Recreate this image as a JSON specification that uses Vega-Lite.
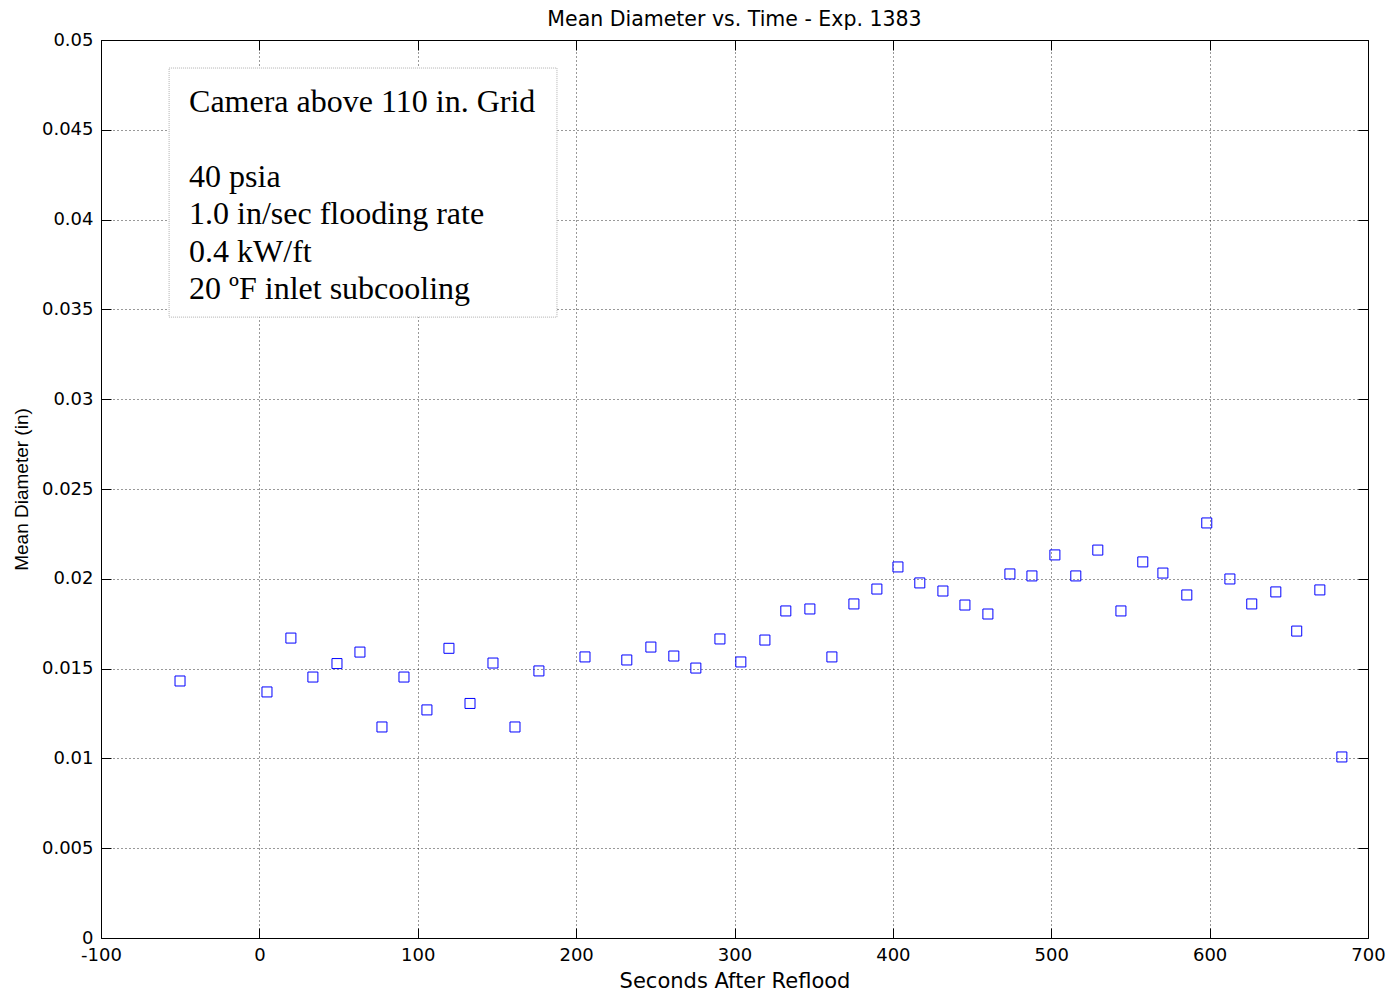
{
  "$schema": "https://vega.github.io/schema/vega-lite/v6.json",
  "width": 1267,
  "height": 898,
  "autosize": {"type": "none"},
  "padding": {"left": 101, "top": 40, "right": 25, "bottom": 57},
  "background": "white",
  "title": {"text": "Mean Diameter vs. Time - Exp. 1383", "font": "DejaVu Sans", "fontSize": 20.5, "fontWeight": "normal", "color": "black", "offset": 1},
  "config": {
    "view": {"stroke": "black", "strokeWidth": 1},
    "axis": {"labelFont": "DejaVu Sans", "labelFontSize": 18, "labelColor": "black", "labelFlush": false, "titleFont": "DejaVu Sans", "titleFontSize": 21, "titleFontWeight": "normal", "titleColor": "black", "domain": false, "tickColor": "black", "tickSize": -10, "tickWidth": 1, "gridColor": "black", "gridDash": [1, 3], "gridOpacity": 0.8, "gridWidth": 1}
  },
  "datasets": {
    "points": [
      {"t": -50.1, "d": 0.01431}, {"t": 4.8, "d": 0.0137}, {"t": 19.9, "d": 0.0167}, {"t": 33.8, "d": 0.01453},
      {"t": 49.0, "d": 0.01528}, {"t": 63.5, "d": 0.01592}, {"t": 77.4, "d": 0.01175}, {"t": 91.3, "d": 0.01453},
      {"t": 105.8, "d": 0.0127}, {"t": 119.7, "d": 0.01613}, {"t": 133.0, "d": 0.01306}, {"t": 147.5, "d": 0.01531},
      {"t": 161.4, "d": 0.01175}, {"t": 176.5, "d": 0.01487}, {"t": 205.6, "d": 0.01565}, {"t": 232.0, "d": 0.01548},
      {"t": 247.2, "d": 0.0162}, {"t": 261.7, "d": 0.0157}, {"t": 275.6, "d": 0.01503}, {"t": 290.8, "d": 0.01665},
      {"t": 304.0, "d": 0.01537}, {"t": 319.2, "d": 0.01659}, {"t": 332.4, "d": 0.01821}, {"t": 347.6, "d": 0.01832},
      {"t": 361.5, "d": 0.01565}, {"t": 375.4, "d": 0.0186}, {"t": 389.9, "d": 0.01943}, {"t": 403.2, "d": 0.02066},
      {"t": 417.0, "d": 0.01977}, {"t": 431.6, "d": 0.01932}, {"t": 445.5, "d": 0.01854}, {"t": 460.0, "d": 0.01804},
      {"t": 473.9, "d": 0.02027}, {"t": 487.8, "d": 0.02016}, {"t": 502.3, "d": 0.02133}, {"t": 515.5, "d": 0.02016},
      {"t": 529.4, "d": 0.0216}, {"t": 544.0, "d": 0.01821}, {"t": 557.8, "d": 0.02094}, {"t": 570.5, "d": 0.02032},
      {"t": 585.6, "d": 0.0191}, {"t": 598.2, "d": 0.02311}, {"t": 612.8, "d": 0.01999}, {"t": 626.6, "d": 0.0186},
      {"t": 641.8, "d": 0.01927}, {"t": 655.0, "d": 0.01709}, {"t": 669.6, "d": 0.01938}, {"t": 683.5, "d": 0.01008}
    ],
    "box": [{"x1": -57.0, "x2": 187.9, "y1": 0.04844, "y2": 0.03457}]
  },
  "layer": [
    {
      "data": {"name": "box"},
      "mark": {"type": "rect", "fill": "white", "stroke": "#b0b0b0", "strokeWidth": 1, "strokeDash": [1, 1]},
      "encoding": {
        "x": {"field": "x1", "type": "quantitative", "scale": {"domain": [-100, 700], "nice": false, "zero": false},
              "axis": {"orient": "top", "labels": false, "title": null, "grid": false, "values": [-100, 0, 100, 200, 300, 400, 500, 600, 700]}},
        "x2": {"field": "x2"},
        "y": {"field": "y1", "type": "quantitative", "scale": {"domain": [0, 0.05], "nice": false, "zero": false},
              "axis": {"orient": "right", "labels": false, "title": null, "grid": false, "values": [0, 0.005, 0.01, 0.015, 0.02, 0.025, 0.03, 0.035, 0.04, 0.045, 0.05]}},
        "y2": {"field": "y2"}
      }
    },
    {
      "data": {"name": "box"},
      "mark": {"type": "text", "text": "Camera above 110 in. Grid", "font": "Liberation Serif", "fontSize": 32, "align": "left", "baseline": "alphabetic", "color": "black"},
      "encoding": {
        "x": {"datum": -44.4, "type": "quantitative", "axis": null},
        "y": {"datum": 0.04599, "type": "quantitative", "axis": null}
      }
    },
    {
      "data": {"name": "box"},
      "mark": {"type": "text", "text": ["40 psia", "1.0 in/sec flooding rate", "0.4 kW/ft", "20 ºF inlet subcooling"], "font": "Liberation Serif", "fontSize": 32, "lineHeight": 37.5, "align": "left", "baseline": "alphabetic", "color": "black"},
      "encoding": {
        "x": {"datum": -44.4, "type": "quantitative", "axis": null},
        "y": {"datum": 0.04182, "type": "quantitative", "axis": null}
      }
    },
    {
      "data": {"name": "points"},
      "mark": {"type": "point", "shape": "square", "filled": false, "stroke": "#0000ff", "strokeWidth": 1, "size": 100, "opacity": 1},
      "encoding": {
        "x": {"field": "t", "type": "quantitative",
              "axis": {"orient": "bottom", "title": "Seconds After Reflood", "values": [-100, 0, 100, 200, 300, 400, 500, 600, 700], "labelExpr": "'' + datum.value", "labelPadding": 18, "titlePadding": 6, "grid": true}},
        "y": {"field": "d", "type": "quantitative",
              "axis": {"orient": "left", "title": "Mean Diameter (in)", "titleFont": "Liberation Sans", "titleFontSize": 19, "values": [0, 0.005, 0.01, 0.015, 0.02, 0.025, 0.03, 0.035, 0.04, 0.045, 0.05], "labelExpr": "'' + datum.value", "labelPadding": 18, "titlePadding": 10, "grid": true}}
      }
    }
  ],
  "resolve": {"axis": {"x": "independent", "y": "independent"}}
}
